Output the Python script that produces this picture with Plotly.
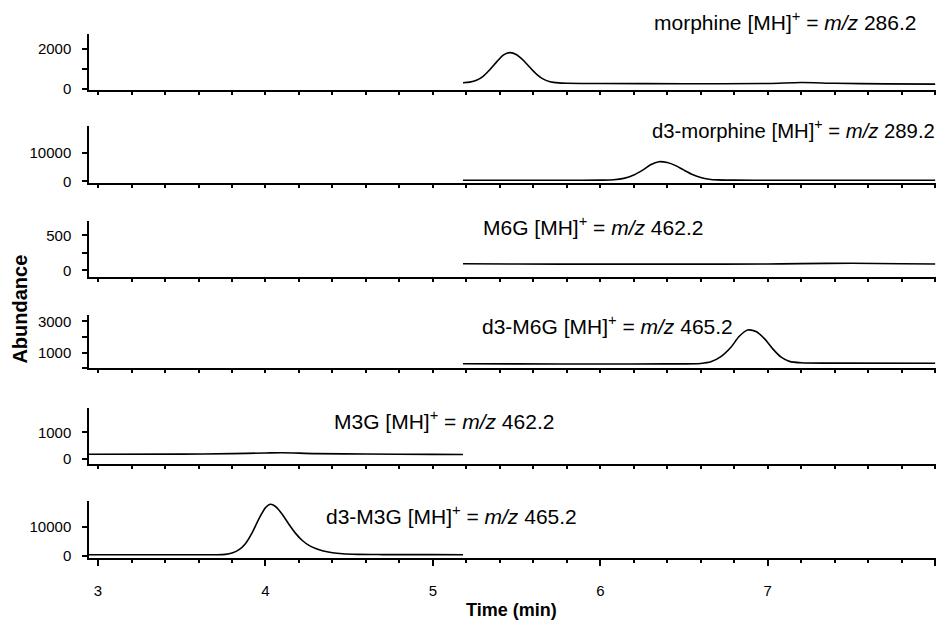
import plotly.graph_objects as go

# ---------------- data ----------------
labels = [
    "morphine [MH]<sup>+</sup> = <i>m/z</i> 286.2",
    "d3-morphine [MH]<sup>+</sup> = <i>m/z</i> 289.2",
    "M6G [MH]<sup>+</sup> = <i>m/z</i> 462.2",
    "d3-M6G [MH]<sup>+</sup> = <i>m/z</i> 465.2",
    "M3G [MH]<sup>+</sup> = <i>m/z</i> 462.2",
    "d3-M3G [MH]<sup>+</sup> = <i>m/z</i> 465.2",
]

morphine_t = [5.18, 5.22, 5.26, 5.30, 5.34, 5.38, 5.42, 5.46, 5.50, 5.54, 5.58, 5.62, 5.66,
              5.70, 5.75, 5.80, 6.0, 6.5, 7.0, 7.2, 7.4, 7.7, 8.0]
morphine_v = [300, 330, 420, 620, 950, 1330, 1680, 1800, 1700, 1420, 1060, 720, 480,
              350, 290, 270, 260, 250, 260, 310, 270, 240, 230]

d3morphine_t = [5.18, 5.5, 5.8, 6.0, 6.08, 6.14, 6.20, 6.26, 6.30, 6.35, 6.40, 6.45, 6.50,
                6.55, 6.60, 6.65, 6.70, 6.8, 7.0, 7.5, 8.0]
d3morphine_v = [450, 450, 460, 480, 600, 1100, 2300, 4300, 5900, 7000, 6700, 5600, 4000,
                2500, 1400, 800, 560, 480, 460, 450, 450]

m6g_t = [5.18, 5.5, 6.0, 6.5, 7.0, 7.2, 7.5, 7.8, 8.0]
m6g_v = [95, 92, 90, 90, 92, 98, 102, 95, 92]

d3m6g_t = [5.18, 5.5, 6.0, 6.4, 6.6, 6.66, 6.72, 6.78, 6.83, 6.88, 6.93, 6.98, 7.03, 7.08,
           7.13, 7.2, 7.4, 8.0]
d3m6g_v = [300, 290, 280, 290, 320, 420, 750, 1350, 2050, 2450, 2350, 1900, 1250, 720,
           450, 360, 340, 330]

m3g_t = [2.946, 3.5, 3.8, 4.0, 4.1, 4.3, 4.6, 5.0, 5.18]
m3g_v = [170, 175, 195, 220, 230, 195, 180, 165, 160]

d3m3g_t = [2.946, 3.2, 3.5, 3.7, 3.76, 3.80, 3.84, 3.88, 3.92, 3.96, 4.00, 4.03, 4.06, 4.10,
           4.14, 4.18, 4.22, 4.26, 4.30, 4.34, 4.40, 4.46, 4.55, 4.7, 5.0, 5.18]
d3m3g_v = [300, 300, 300, 320, 450, 900, 2000, 4200, 8000, 12800, 16800, 18000, 17200, 14500,
           11000, 7800, 5300, 3600, 2500, 1700, 1000, 650, 450, 380, 350, 340]

series_t = [morphine_t, d3morphine_t, m6g_t, d3m6g_t, m3g_t, d3m3g_t]
series_v = [morphine_v, d3morphine_v, m6g_v, d3m6g_v, m3g_v, d3m3g_v]

x_ticks = [3, 4, 5, 6, 7, 8]
x_ticktext = ["3", "4", "5", "6", "7", ""]

y_ranges = [[-70, 2750], [-450, 19500], [-94, 706], [0, 3420], [-213, 1937], [-800, 19200]]
y_tickvals = [[0, 1000, 2000], [0, 10000], [0, 250, 500], [0, 1000, 2000, 3000], [0, 1000], [0, 10000]]
y_ticktext = [["0", "", "2000"], ["0", "10000"], ["0", "", "500"], ["", "1000", "", "3000"],
              ["0", "1000"], ["0", "10000"]]

# ---------------- layout geometry (reference pixels) ----------------
OFF = 8                      # page body margin
W, H = 949 - OFF, 630 - OFF
panel_px = [(32, 89.3), (126, 183.3), (222, 279), (317.3, 371.7), (411.7, 469), (506, 564)]
label_px = [(652, 19), (650, 129), (481, 227), (480, 328), (332, 424), (324, 520)]
label_size = [21, 20.3, 21, 21, 21, 21]


def px(x):
    return (x - OFF) / W


def py(y):
    return 1 - (y - OFF) / H


x_dom = [px(89), px(936)]

FONT = "Liberation Sans, Arial, sans-serif"

fig = go.Figure()
layout = dict(
    width=W, height=H,
    margin=dict(l=0, r=0, t=0, b=0),
    paper_bgcolor="white", plot_bgcolor="white",
    showlegend=False,
    font=dict(family=FONT, size=15, color="black"),
    annotations=[],
)

for i in range(6):
    n = i + 1
    xa = "x" if n == 1 else f"x{n}"
    ya = "y" if n == 1 else f"y{n}"
    fig.add_trace(go.Scatter(
        x=series_t[i], y=series_v[i], mode="lines",
        line=dict(color="black", width=1.6, shape="spline", smoothing=0.8),
        xaxis=xa, yaxis=ya, hoverinfo="skip",
    ))
    top, bot = panel_px[i]
    ydom = [py(bot), py(top)]
    xkey = "xaxis" if n == 1 else f"xaxis{n}"
    ykey = "yaxis" if n == 1 else f"yaxis{n}"
    layout[xkey] = dict(
        domain=x_dom, anchor=ya, range=[2.946, 8.005],
        showline=True, linecolor="black", linewidth=1.5,
        showgrid=False, zeroline=False,
        ticks="outside", ticklen=6, tickwidth=1.5, tickcolor="black",
        tickmode="array", tickvals=x_ticks,
        ticktext=x_ticktext if n == 6 else [""] * len(x_ticks),
        showticklabels=(n == 6),
        ticklabelstandoff=12,
        minor=dict(dtick=0.2, tick0=3, ticks="outside", ticklen=3, tickwidth=1.5,
                   tickcolor="black", showgrid=False),
        tickfont=dict(size=15),
    )
    if n != 1:
        layout[xkey]["matches"] = "x"
    layout[ykey] = dict(
        domain=ydom, anchor=xa, range=y_ranges[i],
        showline=True, linecolor="black", linewidth=1.5,
        showgrid=False, zeroline=False,
        ticks="outside", ticklen=5, tickwidth=1.5, tickcolor="black",
        tickmode="array", tickvals=y_tickvals[i], ticktext=y_ticktext[i],
        ticklabelstandoff=8,
        tickfont=dict(size=15),
    )
    lx, ly = label_px[i]
    layout["annotations"].append(dict(
        text=labels[i], xref="paper", yref="paper",
        x=px(lx), y=py(ly), xanchor="left", yanchor="middle",
        showarrow=False, font=dict(size=label_size[i], family=FONT, color="black"),
    ))

layout["annotations"].append(dict(
    text="<b>Time (min)</b>", xref="paper", yref="paper",
    x=px(512), y=py(617), xanchor="center", yanchor="middle",
    showarrow=False, font=dict(size=18, family=FONT, color="black"),
))
layout["annotations"].append(dict(
    text="<b>Abundance</b>", xref="paper", yref="paper",
    x=px(20), y=py(312), xanchor="center", yanchor="middle", textangle=-90,
    showarrow=False, font=dict(size=20, family=FONT, color="black"),
))

fig.update_layout(**layout)
fig.write_html("out.html")
